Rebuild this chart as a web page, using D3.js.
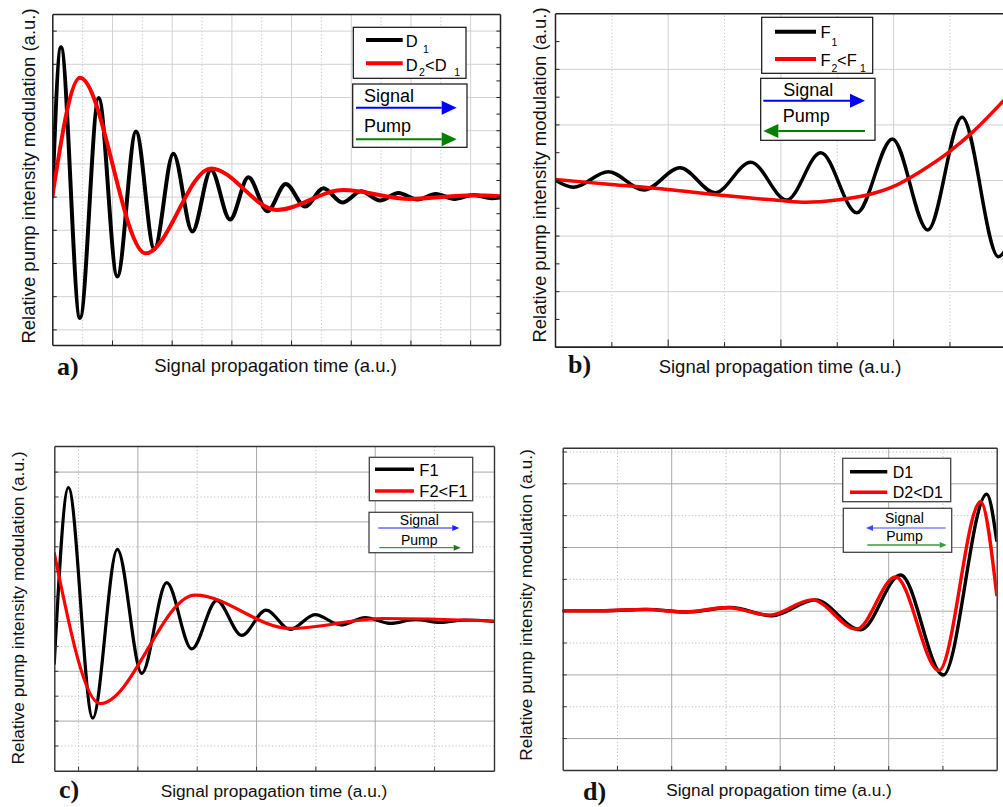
<!DOCTYPE html>
<html>
<head>
<meta charset="utf-8">
<script src="https://cdn.jsdelivr.net/npm/d3@7/dist/d3.min.js"></script>
<style>
  html, body { margin: 0; padding: 0; background: #fff; }
  svg { display: block; }
</style>
</head>
<body>
<svg id="fig" width="1003" height="807"></svg>
<script>
// ---- (a) dispersion: D1 and D2 < D1, co-propagating signal and pump ----
const aD1Time = [0, 0.145, 0.464, 0.777, 1.089, 1.402, 1.709, 2.028, 2.346, 2.659, 2.978, 3.285, 3.603,
                 3.911, 4.235, 4.542, 4.860, 5.173, 5.492, 5.799, 6.117, 6.425, 6.737, 7.056, 7.363, 7.5];
const aD1Value = [0, 4.50, -3.66, 2.97, -2.41, 1.96, -1.58, 1.29, -1.05, 0.80, -0.69, 0.58, -0.44,
                  0.38, -0.30, 0.25, -0.18, 0.16, -0.12, 0.11, -0.09, 0.08, -0.07, 0.05, -0.05, -0.03];
const aD2Time = [0, 0.464, 1.564, 2.659, 3.760, 4.877, 5.994, 7.056, 7.5];
const aD2Value = [0, 3.58, -1.71, 0.85, -0.40, 0.20, -0.07, 0.04, 0.01];

// ---- (b) F1 and F2 < F1, counter-propagating signal and pump ----
const bF1Time = [0, 0.163, 0.473, 0.790, 1.109, 1.420, 1.737, 2.056, 2.358, 2.678, 2.994, 3.308, 3.612, 3.935, 4.0];
const bF1Value = [0, -0.13, 0.15, -0.18, 0.22, -0.23, 0.32, -0.36, 0.49, -0.59, 0.74, -0.90, 1.13, -1.38, -1.25];
const bF2Time = [0, 0.5, 1.0, 1.5, 2.0, 2.23, 2.5, 2.77, 3.0, 3.24, 3.5, 3.71, 4.0];
const bF2Value = [0.01, -0.08, -0.17, -0.28, -0.37, -0.40, -0.36, -0.27, -0.12, 0.15, 0.51, 0.87, 1.47];

// ---- (c) F1 and F2 < F1, co-propagating ----
const cF1Time = [0.30, 0.419, 0.624, 0.831, 1.037, 1.247, 1.458, 1.669, 1.879, 2.084, 2.287, 2.497, 2.713,
                 2.919, 3.135, 3.340, 3.551, 3.761, 4.005];
const cF1Value = [-0.85, 2.68, -1.95, 1.44, -1.05, 0.77, -0.56, 0.41, -0.29, 0.22, -0.17, 0.13, -0.08,
                  0.07, -0.05, 0.03, -0.03, 0.02, -0.01];
const cF2Time = [0.30, 0.686, 1.486, 2.287, 3.07, 4.005];
const cF2Value = [1.36, -1.66, 0.52, -0.15, 0.05, 0.0];

// ---- (d) D1 and D2 < D1, counter-propagating ----
const dD1Time = [0, 0.40, 0.775, 1.145, 1.545, 1.929, 2.329, 2.745, 3.114, 3.508, 3.908, 4.0];
const dD1Value = [0, 0.0, 0.02, -0.02, 0.05, -0.08, 0.17, -0.30, 0.56, -1.01, 1.83, 1.10];
const dD2Time = [0, 0.38, 0.745, 1.13, 1.515, 1.908, 2.298, 2.708, 3.068, 3.468, 3.852, 4.0];
const dD2Value = [0, 0.0, 0.02, -0.02, 0.05, -0.07, 0.17, -0.29, 0.53, -0.94, 1.71, 0.25];

const xTitle = "Signal propagation time (a.u.)";
const yTitle = "Relative pump intensity modulation (a.u.)";

const SANS = "'Liberation Sans', Arial, Helvetica, sans-serif";
const SERIF = "'Liberation Serif', 'Times New Roman', Times, serif";
const svg = d3.select("#fig");

const zip = (t, v) => t.map((d, i) => [d, v[i]]);
const halves = (a, b) => d3.range(a, b + 1e-9, 0.5);

function drawPanel(p) {
  const x = d3.scaleLinear().domain(p.xDomain).range([p.left, p.right]);
  const y = d3.scaleLinear().domain(p.yDomain).range([p.bottom, p.top]);
  const W = p.right - p.left, H = p.bottom - p.top;
  const g = svg.append("g");

  svg.append("clipPath").attr("id", "clip-" + p.id)
    .append("rect").attr("x", p.left).attr("y", p.top).attr("width", W).attr("height", H);

  // grid lines
  const gridY = (vals, color, dash) => g.append("g")
    .attr("transform", `translate(${p.left},0)`)
    .call(d3.axisLeft(y).tickValues(vals).tickSize(-W).tickSizeOuter(0).tickFormat(""))
    .call(s => {
      s.select(".domain").remove();
      s.selectAll("line").attr("stroke", color).attr("stroke-width", 1).attr("stroke-dasharray", dash || null);
    });
  const gridX = (vals, color, dash) => g.append("g")
    .attr("transform", `translate(0,${p.bottom})`)
    .call(d3.axisBottom(x).tickValues(vals).tickSize(-H).tickSizeOuter(0).tickFormat(""))
    .call(s => {
      s.select(".domain").remove();
      s.selectAll("line").attr("stroke", color).attr("stroke-width", 1).attr("stroke-dasharray", dash || null);
    });
  gridY(p.yGridMinor, p.minorColor, "1.2,2.2");
  gridX(p.xGridMinor, p.minorColor, "1.2,2.2");
  gridY(p.yGridMajor, p.majorColor);
  gridX(p.xGridMajor, p.majorColor);

  // curves
  const line = d3.line().x(d => x(d[0])).y(d => y(d[1])).curve(d3.curveMonotoneX);
  p.series.forEach(s => {
    g.append("path").datum(zip(s.t, s.v))
      .attr("clip-path", `url(#clip-${p.id})`)
      .attr("d", line)
      .attr("fill", "none")
      .attr("stroke", s.color)
      .attr("stroke-width", s.width)
      .attr("stroke-linejoin", "round")
      .attr("stroke-linecap", "round");
  });

  // frame with inward ticks
  const styleAxis = s => {
    s.select(".domain").attr("stroke", p.frameColor).attr("stroke-width", p.frameWidth);
    s.selectAll(".tick line").attr("stroke", p.frameColor).attr("stroke-width", 1);
  };
  g.append("g").attr("transform", `translate(${p.left},0)`)
    .call(d3.axisLeft(y).tickValues(p.yTicks).tickSize(-p.tickLen).tickSizeOuter(0).tickFormat(""))
    .call(styleAxis);
  g.append("g").attr("transform", `translate(0,${p.bottom})`)
    .call(d3.axisBottom(x).tickValues(p.xTicks).tickSize(-p.tickLen).tickSizeOuter(0).tickFormat(""))
    .call(styleAxis);
  if (p.xTicksLong) {
    g.append("g").attr("transform", `translate(0,${p.bottom})`)
      .call(d3.axisBottom(x).tickValues(p.xTicksLong).tickSize(-p.tickLen * 1.6).tickSizeOuter(0).tickFormat(""))
      .call(styleAxis);
  }
  g.append("g").attr("transform", `translate(0,${p.top})`)
    .call(d3.axisTop(x).tickValues([]).tickSizeOuter(0))
    .call(styleAxis);
  g.append("g").attr("transform", `translate(${p.right},0)`)
    .call(d3.axisRight(y).tickValues(p.yTicksRight || []).tickSize(-p.tickLen * 0.8).tickSizeOuter(0).tickFormat(""))
    .call(styleAxis);

  // titles
  g.append("text").attr("x", p.xTitlePos[0]).attr("y", p.xTitlePos[1])
    .attr("text-anchor", "middle").attr("font-family", SANS).attr("font-size", p.titleSize)
    .attr("fill", "#111").text(xTitle);
  g.append("text")
    .attr("transform", `translate(${p.yTitlePos[0]},${p.yTitlePos[1]}) rotate(-90)`)
    .attr("text-anchor", "middle").attr("font-family", SANS).attr("font-size", p.titleSize)
    .attr("fill", "#111").text(yTitle);
  g.append("text").attr("x", p.letterPos[0]).attr("y", p.letterPos[1])
    .attr("font-family", SERIF).attr("font-weight", "bold").attr("font-size", 26)
    .attr("fill", "#111").text(p.letter);

  return g;
}

// legend helpers
function box(g, x0, y0, x1, y1, color, w) {
  g.append("rect").attr("x", x0).attr("y", y0).attr("width", x1 - x0).attr("height", y1 - y0)
    .attr("fill", "#fff").attr("stroke", color).attr("stroke-width", w);
}
function seg(g, x0, x1, yy, color, w) {
  g.append("line").attr("x1", x0).attr("x2", x1).attr("y1", yy).attr("y2", yy)
    .attr("stroke", color).attr("stroke-width", w);
}
function arrow(g, tail, tip, yy, color, w, headLen, headHalf) {
  const dir = tip > tail ? 1 : -1;
  const base = tip - dir * headLen;
  g.append("line").attr("x1", tail).attr("x2", base).attr("y1", yy).attr("y2", yy)
    .attr("stroke", color).attr("stroke-width", w);
  g.append("path")
    .attr("d", `M${tip},${yy} L${base},${yy - headHalf} L${base},${yy + headHalf} Z`)
    .attr("fill", color);
}
function label(g, xx, yy, size, str, anchor) {
  return g.append("text").attr("x", xx).attr("y", yy).attr("font-family", SANS)
    .attr("font-size", size).attr("fill", "#000").attr("text-anchor", anchor || "start").text(str);
}
// text pieces laid out at given positions (main glyphs and subscripts)
function pieces(g, parts, size) {
  parts.forEach(([xx, yy, str, sub]) => label(g, xx, yy, sub ? 10.5 : size, str));
}

// ---------------- panel (a) ----------------
const gA = drawPanel({
  id: "a", left: 52.3, right: 500, top: 14, bottom: 345,
  xDomain: [0, 7.5], yDomain: [-4.47, 5.5],
  xGridMajor: d3.range(1, 8), xGridMinor: halves(0.5, 6.5).filter(v => v % 1),
  yGridMajor: d3.range(-4, 6), yGridMinor: [],
  majorColor: "#d2d2d2", minorColor: "#c4c4c4",
  yTicks: d3.range(-4, 6), xTicks: d3.range(1, 8), yTicksRight: halves(-4, 5.5),
  tickLen: 4.5, frameColor: "#222", frameWidth: 1.5,
  series: [
    { t: aD1Time, v: aD1Value, color: "#000", width: 4 },
    { t: aD2Time, v: aD2Value, color: "#ff0000", width: 4 }
  ],
  xTitlePos: [275.5, 372], yTitlePos: [34.5, 176], titleSize: 18.5,
  letter: "a)", letterPos: [57, 375]
});
box(gA, 353.3, 27.3, 466, 78.3, "#111", 1.2);
seg(gA, 366, 402.7, 40, "#000", 4);
seg(gA, 366, 402.7, 63.3, "#ff0000", 4);
pieces(gA, [[405.8, 46.5, "D"], [423, 53, "1", true],
            [405.8, 70.5, "D"], [419, 75.5, "2", true], [425, 70.5, "<D"], [454.3, 75.5, "1", true]], 16.5);
box(gA, 352.7, 84, 467, 147.3, "#111", 1.2);
label(gA, 364, 102.3, 18, "Signal");
arrow(gA, 356, 456.7, 107.7, "#0000ff", 2, 15, 7);
label(gA, 364, 132.3, 18, "Pump");
arrow(gA, 356, 456.7, 139.3, "#008000", 2, 15, 7);

// ---------------- panel (b) ----------------
const gB = drawPanel({
  id: "b", left: 555, right: 1005.8, top: 13.3, bottom: 346.7,
  xDomain: [0, 4], yDomain: [-3, 3],
  xGridMajor: [1, 2, 3], xGridMinor: [0.5, 1.5, 2.5, 3.5],
  yGridMajor: [-2, -1, 0, 1, 2], yGridMinor: [],
  majorColor: "#d0d0d0", minorColor: "#c4c4c4",
  yTicks: halves(-2.5, 2.5), xTicks: [0.5, 1.5, 2.5, 3.5], xTicksLong: [1, 2, 3],
  tickLen: 4.5, frameColor: "#222", frameWidth: 1.5,
  series: [
    { t: bF1Time, v: bF1Value, color: "#000", width: 3.5 },
    { t: bF2Time, v: bF2Value, color: "#ff0000", width: 3.5 }
  ],
  xTitlePos: [780, 372.7], yTitlePos: [546, 175], titleSize: 18.5,
  letter: "b)", letterPos: [568, 373]
});
box(gB, 761.7, 17.3, 872.7, 73.3, "#111", 1.2);
seg(gB, 775, 816, 31.7, "#000", 4);
seg(gB, 775, 816, 59, "#ff0000", 4);
pieces(gB, [[820.5, 37.8, "F"], [831.5, 45.5, "1", true],
            [820.5, 65.5, "F"], [831.5, 72, "2", true], [837, 65.5, "<F"], [860, 72, "1", true]], 16.5);
box(gB, 760.7, 78.3, 875, 140.3, "#111", 1.2);
label(gB, 783.3, 95.5, 18, "Signal");
arrow(gB, 763.3, 865, 100.7, "#0000ff", 2, 15, 7);
label(gB, 782.7, 122, 18, "Pump");
arrow(gB, 865, 763.3, 131, "#008000", 2, 15, 7);

// ---------------- panel (c) ----------------
const gC = drawPanel({
  id: "c", left: 54.3, right: 494, top: 446, bottom: 770.7,
  xDomain: [0.3, 4.005], yDomain: [-3.006, 3.514],
  xGridMajor: [1, 2, 3], xGridMinor: [0.5, 1.5, 2.5, 3.5],
  yGridMajor: [-2, -1, 0, 1, 2, 3], yGridMinor: halves(-2.5, 2.5).filter(v => v % 1),
  majorColor: "#a9a9a9", minorColor: "#bdbdbd",
  yTicks: halves(-2.5, 3), xTicks: halves(0.5, 3.5),
  tickLen: 4, frameColor: "#333", frameWidth: 1.4,
  series: [
    { t: cF1Time, v: cF1Value, color: "#000", width: 3.2 },
    { t: cF2Time, v: cF2Value, color: "#ff0000", width: 3.2 }
  ],
  xTitlePos: [274, 796.7], yTitlePos: [23.5, 608], titleSize: 17.3,
  letter: "c)", letterPos: [59, 798]
});
box(gC, 369.3, 457.3, 472.7, 500.7, "#444", 1.3);
seg(gC, 375, 414, 469.3, "#000", 3.5);
seg(gC, 375, 414, 491, "#ff0000", 3.5);
label(gC, 419.3, 475.5, 16.5, "F1");
label(gC, 419.3, 497, 16.5, "F2<F1");
box(gC, 369, 512.3, 472.7, 552.7, "#444", 1.3);
label(gC, 419.3, 525, 14, "Signal", "middle");
arrow(gC, 378.3, 459.3, 528, "#1a1aff", 1, 7, 3);
label(gC, 419.3, 544.5, 14, "Pump", "middle");
arrow(gC, 379.3, 460.7, 547.7, "#1a7a1a", 1, 7, 3);

// ---------------- panel (d) ----------------
const gD = drawPanel({
  id: "d", left: 562.7, right: 996.7, top: 447.7, bottom: 770,
  xDomain: [0, 4], yDomain: [-2.501, 2.559],
  xGridMajor: [1, 2, 3], xGridMinor: [0.5, 1.5, 2.5, 3.5],
  yGridMajor: [-2, -1, 0, 1, 2], yGridMinor: [-1.5, -0.5, 0.5, 1.5, 2.5],
  majorColor: "#a9a9a9", minorColor: "#bdbdbd",
  yTicks: halves(-2, 2.5), xTicks: halves(0.5, 3.5),
  tickLen: 4, frameColor: "#333", frameWidth: 1.4,
  series: [
    { t: dD1Time, v: dD1Value, color: "#000", width: 3.4 },
    { t: dD2Time, v: dD2Value, color: "#ff0000", width: 3.4 }
  ],
  xTitlePos: [779, 795.7], yTitlePos: [532, 605], titleSize: 17.2,
  letter: "d)", letterPos: [583, 800]
});
box(gD, 842.7, 458.3, 950.7, 501.7, "#444", 1.3);
seg(gD, 850, 887.3, 471.7, "#000", 3.5);
seg(gD, 850, 887.3, 492.3, "#ff0000", 3.5);
label(gD, 892.7, 477.5, 16, "D1");
label(gD, 892.7, 498, 16, "D2<D1");
box(gD, 843.3, 508.3, 951.7, 552.3, "#444", 1.3);
label(gD, 904.5, 522.7, 14, "Signal", "middle");
arrow(gD, 945.7, 866, 528, "#3b4cf0", 1, 7, 3);
label(gD, 904.5, 540.7, 14, "Pump", "middle");
arrow(gD, 867.3, 946.7, 545, "#3a9a40", 1.3, 7, 3);
</script>
</body>
</html>
